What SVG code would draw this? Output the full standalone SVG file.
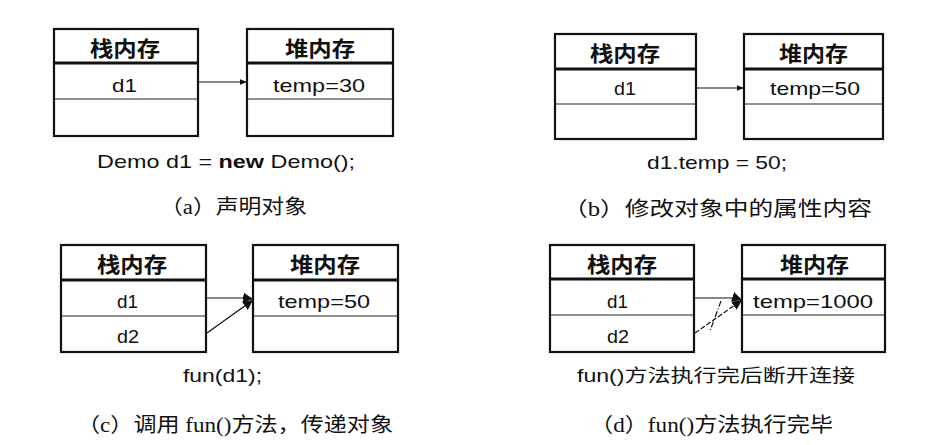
<svg xmlns="http://www.w3.org/2000/svg" width="933" height="445" viewBox="0 0 933 445">
<style>
.box{fill:#fff;stroke:#111;stroke-width:2.2}
.hd{stroke:#111;stroke-width:3}
.rw{stroke:#222;stroke-width:1}
.h{font-family:"Liberation Sans","Noto Sans CJK SC",sans-serif;font-weight:bold;font-size:21px;fill:#111;text-anchor:start}
.t{font-family:"Liberation Sans",Arial,sans-serif;font-size:19px;fill:#111}
.c{font-family:"Liberation Serif","Noto Sans CJK SC",serif;font-size:20px;fill:#111}
.cn{font-family:"Liberation Sans","Noto Sans CJK SC",sans-serif;font-size:18px;fill:#111}
.ln{stroke:#111;stroke-width:1.2;fill:none}
</style>
<defs>
<marker id="ah" viewBox="0 0 10 10" refX="10" refY="5" markerWidth="7" markerHeight="7" markerUnits="userSpaceOnUse" orient="auto">
<path d="M0,1 L10,5 L0,9 Z" fill="#111"/>
</marker>
<marker id="ahb" viewBox="0 0 10 10" refX="10" refY="5" markerWidth="10" markerHeight="10" markerUnits="userSpaceOnUse" orient="auto">
<path d="M0,0 L10,5 L0,10 Z" fill="#111"/>
</marker>
</defs>
<rect width="933" height="445" fill="#fff"/>

<!-- Panel a -->
<g id="a-stack">
<rect class="box" x="54" y="29" width="144" height="107"/>
<line class="hd" x1="54" y1="63" x2="198" y2="63"/>
<line class="rw" x1="54" y1="99" x2="198" y2="99"/>
<text class="h" x="90" y="56" textLength="70" lengthAdjust="spacingAndGlyphs">栈内存</text>
<text class="t" x="112" y="92" textLength="25" lengthAdjust="spacingAndGlyphs">d1</text>
</g>
<g id="a-heap">
<rect class="box" x="247" y="29" width="146" height="107"/>
<line class="hd" x1="247" y1="63" x2="393" y2="63"/>
<line class="rw" x1="247" y1="99" x2="393" y2="99"/>
<text class="h" x="285" y="56" textLength="70" lengthAdjust="spacingAndGlyphs">堆内存</text>
<text class="t" x="273" y="92" textLength="92" lengthAdjust="spacingAndGlyphs">temp=30</text>
</g>
<g id="a-caption">
<text class="t" x="97" y="168" textLength="258" lengthAdjust="spacingAndGlyphs">Demo d1 = <tspan font-weight="bold">new</tspan> Demo();</text>
<text class="c" x="160" y="214" textLength="147" lengthAdjust="spacingAndGlyphs">（a）声明对象</text>
</g>

<!-- Panel b -->
<g id="b-stack">
<rect class="box" x="555" y="34" width="141" height="105"/>
<line class="hd" x1="555" y1="69" x2="696" y2="69"/>
<line class="rw" x1="555" y1="104" x2="696" y2="104"/>
<text class="h" x="590" y="61" textLength="70" lengthAdjust="spacingAndGlyphs">栈内存</text>
<text class="t" x="614" y="95" textLength="22" lengthAdjust="spacingAndGlyphs">d1</text>
</g>
<g id="b-heap">
<rect class="box" x="744" y="34" width="139" height="105"/>
<line class="hd" x1="744" y1="69" x2="883" y2="69"/>
<line class="rw" x1="744" y1="104" x2="883" y2="104"/>
<text class="h" x="779" y="61" textLength="69" lengthAdjust="spacingAndGlyphs">堆内存</text>
<text class="t" x="770" y="95" textLength="90" lengthAdjust="spacingAndGlyphs">temp=50</text>
</g>
<g id="b-caption">
<text class="t" x="647" y="169" textLength="140" lengthAdjust="spacingAndGlyphs">d1.temp = 50;</text>
<text class="c" x="563" y="216" textLength="309" lengthAdjust="spacingAndGlyphs">（b）修改对象中的属性内容</text>
</g>

<!-- Panel c -->
<g id="c-stack">
<rect class="box" x="61" y="245" width="145" height="107"/>
<line class="hd" x1="61" y1="280" x2="206" y2="280"/>
<line class="rw" x1="61" y1="316" x2="206" y2="316"/>
<text class="h" x="97" y="272" textLength="70" lengthAdjust="spacingAndGlyphs">栈内存</text>
<text class="t" x="117" y="308" textLength="21" lengthAdjust="spacingAndGlyphs">d1</text>
<text class="t" x="117" y="343" textLength="22" lengthAdjust="spacingAndGlyphs">d2</text>
</g>
<g id="c-heap">
<rect class="box" x="253" y="245" width="145" height="107"/>
<line class="hd" x1="253" y1="280" x2="398" y2="280"/>
<line class="rw" x1="253" y1="316" x2="398" y2="316"/>
<text class="h" x="290" y="272" textLength="70" lengthAdjust="spacingAndGlyphs">堆内存</text>
<text class="t" x="278" y="308" textLength="92" lengthAdjust="spacingAndGlyphs">temp=50</text>
</g>
<g id="c-caption">
<text class="t" x="183" y="382" textLength="79" lengthAdjust="spacingAndGlyphs">fun(d1);</text>
<text class="c" x="77" y="432" textLength="316" lengthAdjust="spacingAndGlyphs">（c）调用 fun()方法，传递对象</text>
</g>

<!-- Panel d -->
<g id="d-stack">
<rect class="box" x="550" y="245" width="144" height="107"/>
<line class="hd" x1="550" y1="279" x2="694" y2="279"/>
<line class="rw" x1="550" y1="315" x2="694" y2="315"/>
<text class="h" x="587" y="272" textLength="70" lengthAdjust="spacingAndGlyphs">栈内存</text>
<text class="t" x="607" y="308" textLength="21" lengthAdjust="spacingAndGlyphs">d1</text>
<text class="t" x="607" y="343" textLength="22" lengthAdjust="spacingAndGlyphs">d2</text>
</g>
<g id="d-heap">
<rect class="box" x="742" y="245" width="143" height="107"/>
<line class="hd" x1="742" y1="279" x2="885" y2="279"/>
<line class="rw" x1="742" y1="315" x2="885" y2="315"/>
<text class="h" x="780" y="272" textLength="69" lengthAdjust="spacingAndGlyphs">堆内存</text>
<text class="t" x="753" y="308" textLength="120" lengthAdjust="spacingAndGlyphs">temp=1000</text>
</g>
<g id="d-caption">
<text class="cn" x="577" y="382" textLength="278" lengthAdjust="spacingAndGlyphs">fun()方法执行完后断开连接</text>
<text class="c" x="590" y="432" textLength="243" lengthAdjust="spacingAndGlyphs">（d）fun()方法执行完毕</text>
</g>

<g id="connectors">
<line class="ln" x1="199" y1="82" x2="247" y2="82" marker-end="url(#ah)"/>
<line class="ln" x1="697" y1="88" x2="744" y2="88" marker-end="url(#ah)"/>
<polyline class="ln" points="207,298 246,298 253,299" marker-end="url(#ahb)"/>
<line class="ln" x1="207" y1="333" x2="253" y2="300" marker-end="url(#ahb)"/>
<polyline class="ln" points="695,298 736,298 742,300" marker-end="url(#ahb)"/>
<line class="ln" x1="695" y1="333" x2="742" y2="300" stroke-dasharray="5,2" marker-end="url(#ahb)"/>
<line class="ln" x1="721" y1="301" x2="710" y2="331" stroke-dasharray="6,2,1,2" stroke-width="1"/>
</g>
</svg>
